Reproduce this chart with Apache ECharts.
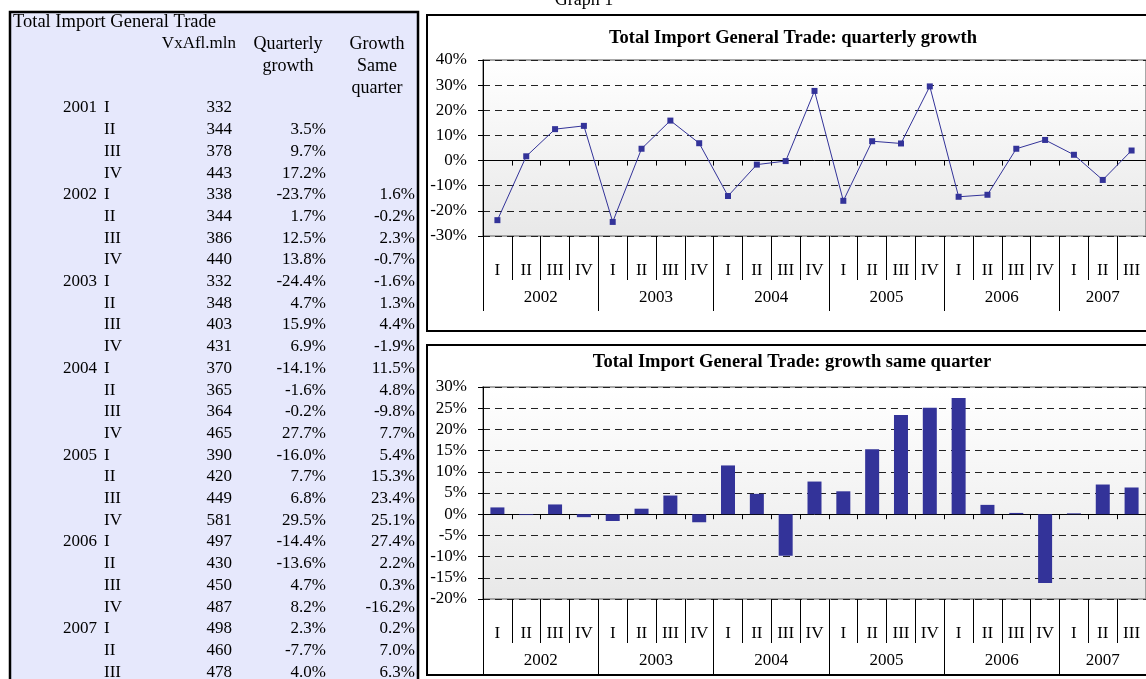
<!DOCTYPE html>
<html>
<head>
<meta charset="utf-8">
<title>Total Import General Trade</title>
<script src="https://cdn.jsdelivr.net/npm/echarts@6/dist/echarts.min.js"></script>
<style>
html, body { margin: 0; padding: 0; background: #fff; }
#main { width: 1146px; height: 679px; }
</style>
</head>
<body>
<div id="main"></div>
<script>
// table data, 2001 I .. 2007 III
var years = ['2001', '2002', '2003', '2004', '2005', '2006', '2007'];
var quarters = ['I', 'II', 'III', 'IV'];
var imports = [332, 344, 378, 443, 338, 344, 386, 440, 332, 348, 403, 431, 370, 365,
	364, 465, 390, 420, 449, 581, 497, 430, 450, 487, 498, 460, 478];
var quarterlyGrowth = [null, 3.5, 9.7, 17.2, -23.7, 1.7, 12.5, 13.8, -24.4, 4.7, 15.9, 6.9,
	-14.1, -1.6, -0.2, 27.7, -16.0, 7.7, 6.8, 29.5, -14.4, -13.6, 4.7, 8.2, 2.3, -7.7, 4.0];
var sameQuarterGrowth = [null, null, null, null, 1.6, -0.2, 2.3, -0.7, -1.6, 1.3, 4.4, -1.9,
	11.5, 4.8, -9.8, 7.7, 5.4, 15.3, 23.4, 25.1, 27.4, 2.2, 0.3, -16.2, 0.2, 7.0, 6.3];

// charts start at 2002 I
var chartStart = 4;
var chartYears = ['2002', '2003', '2004', '2005', '2006', '2007'];
var chartYearQuarters = [4, 4, 4, 4, 4, 3];
var lineTicks = { min: -30, max: 40, interval: 10 };
var barTicks = { min: -20, max: 30, interval: 5 };

var FONT = "'Liberation Serif', 'Times New Roman', serif";
var NAVY = '#333399';

var chartDom = document.getElementById('main');
var myChart = echarts.init(chartDom);

// categories + year boundaries for the two-level axis
var cats = [];
for (var i = chartStart; i < imports.length; i++) {
	cats.push(quarters[i % 4]);
}
var yearEdges = [0], yearMids = [];
chartYearQuarters.forEach(function(n) {
	var last = yearEdges[yearEdges.length - 1];
	yearMids.push(last + n / 2);
	yearEdges.push(last + n);
});

// ---- table drawn as graphic text ----
var graphics = [];
graphics.push({
	type: 'rect', z: -10,
	shape: { x: 10, y: 12, width: 408, height: 700 },
	style: { fill: '#E6E8FC', stroke: '#000', lineWidth: 2.5 }
});
function txt(s, x, y, align, font) {
	graphics.push({
		type: 'text', z: 5,
		style: { text: s, x: x, y: y, align: align || 'left', verticalAlign: 'middle',
			font: (font || '17px') + ' ' + FONT, fill: '#000' }
	});
}
txt('Total Import General Trade', 13, 22, 'left', '18.5px');
txt('VxAfl.mln', 236, 44, 'right');
txt('Quarterly', 288, 44, 'center', '18px');
txt('growth', 288, 66, 'center', '18px');
txt('Growth', 377, 44, 'center', '18px');
txt('Same', 377, 66, 'center', '18px');
txt('quarter', 377, 88, 'center', '18px');

var rowY0 = 108, rowH = 21.7;
for (var r = 0; r < imports.length; r++) {
	var y = rowY0 + r * rowH;
	if (r % 4 == 0) txt(years[r / 4], 97, y, 'right');
	txt(quarters[r % 4], 104, y, 'left');
	txt(String(imports[r]), 232, y, 'right');
	if (quarterlyGrowth[r] != null) txt(quarterlyGrowth[r].toFixed(1) + '%', 326, y, 'right');
	if (sameQuarterGrowth[r] != null) txt(sameQuarterGrowth[r].toFixed(1) + '%', 415, y, 'right');
}

// ---- chart boxes, titles ----
txt('Graph 1', 584, 0, 'center', '18px');
graphics.push({
	type: 'rect', z: -10,
	shape: { x: 427, y: 15, width: 760, height: 316 },
	style: { fill: '#fff', stroke: '#000', lineWidth: 2 }
});
graphics.push({
	type: 'rect', z: -10,
	shape: { x: 427, y: 345, width: 760, height: 330 },
	style: { fill: '#fff', stroke: '#000', lineWidth: 2 }
});
txt('Total Import General Trade: quarterly growth', 793, 38, 'center', 'bold 18.5px');
txt('Total Import General Trade: growth same quarter', 792, 362, 'center', 'bold 18.5px');

function plotBg() {
	return new echarts.graphic.LinearGradient(0, 0, 0, 1, [
		{ offset: 0, color: '#ffffff' },
		{ offset: 1, color: '#e8e8e8' }
	]);
}
var labelStyle = { color: '#000', fontFamily: FONT, fontSize: 17 };

function yAxisOf(gi, t) {
	return {
		gridIndex: gi, type: 'value', min: t.min, max: t.max, interval: t.interval,
		axisLine: { show: true, onZero: false, lineStyle: { color: '#000', width: 1 } },
		axisTick: { show: true, length: 5, lineStyle: { color: '#000' } },
		axisLabel: Object.assign({ formatter: '{value}%', margin: 16 }, labelStyle),
		splitLine: { show: true, lineStyle: { color: '#222', width: 1, type: [7, 5] } }
	};
}
function xAxesOf(gi) {
	return [{
		// zero line with small ticks
		gridIndex: gi, type: 'category', data: cats,
		axisLine: { onZero: true, lineStyle: { color: '#000', width: 1 } },
		axisTick: { show: true, interval: 0, length: 5, lineStyle: { color: '#000' } },
		axisLabel: { show: false }, splitLine: { show: false }
	}, {
		// quarter labels
		gridIndex: gi, type: 'category', data: cats, position: 'bottom',
		axisLine: { show: false, onZero: false },
		axisTick: { show: true, interval: 0, length: 44, lineStyle: { color: '#000' } },
		axisLabel: Object.assign({ interval: 0, margin: 26 }, labelStyle),
		splitLine: { show: false }
	}, {
		// year labels
		gridIndex: gi, type: 'value', position: 'bottom', min: 0, max: yearEdges[yearEdges.length - 1],
		axisLine: { show: false, onZero: false },
		axisTick: { show: true, customValues: yearEdges, length: 75, lineStyle: { color: '#000' } },
		axisLabel: Object.assign({
			customValues: yearMids, margin: 53,
			formatter: function(v) { return chartYears[yearMids.indexOf(v)] || ''; }
		}, labelStyle),
		splitLine: { show: false }
	}];
}

var option = {
	animation: false,
	graphic: graphics,
	grid: [{
		left: 483, top: 60, width: 669, height: 176,
		show: true, backgroundColor: plotBg(), borderColor: '#8c8c8c', borderWidth: 1.5
	}, {
		left: 483, top: 387, width: 669, height: 212,
		show: true, backgroundColor: plotBg(), borderColor: '#8c8c8c', borderWidth: 1.5
	}],
	xAxis: xAxesOf(0).concat(xAxesOf(1)),
	yAxis: [yAxisOf(0, lineTicks), yAxisOf(1, barTicks)],
	series: [{
		name: 'Quarterly growth', type: 'line',
		xAxisIndex: 0, yAxisIndex: 0,
		data: quarterlyGrowth.slice(chartStart),
		symbol: 'rect', symbolSize: 6,
		itemStyle: { color: NAVY },
		lineStyle: { color: NAVY, width: 1 },
		z: 10
	}, {
		name: 'Growth same quarter', type: 'bar',
		xAxisIndex: 3, yAxisIndex: 1,
		data: sameQuarterGrowth.slice(chartStart),
		barWidth: 14,
		itemStyle: { color: NAVY },
		z: 10
	}]
};
myChart.setOption(option);
</script>
</body>
</html>
